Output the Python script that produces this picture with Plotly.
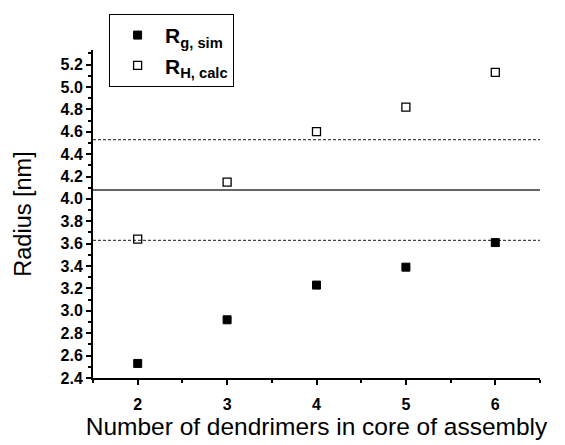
import plotly.graph_objects as go

n_dendrimers = [2, 3, 4, 5, 6]
rg_sim = [2.53, 2.92, 3.23, 3.39, 3.61]
rh_calc = [3.64, 4.15, 4.60, 4.82, 5.13]
ref_solid = [4.08]
ref_dashed = [3.63, 4.53]
x_tick_vals = [2, 3, 4, 5, 6]
y_tick_vals = [2.4, 2.6, 2.8, 3.0, 3.2, 3.4, 3.6, 3.8, 4.0, 4.2, 4.4, 4.6, 4.8, 5.0, 5.2]
y_tick_text = ["%.1f" % v for v in y_tick_vals]

FONT = "Liberation Sans, Arial, sans-serif"

fig = go.Figure()
fig.add_trace(go.Scatter(
    x=n_dendrimers, y=rg_sim, mode="markers",
    name="<b>R<sub>g, sim</sub></b>", legendgroup="a",
    marker=dict(symbol="square", size=8, color="black", line=dict(color="black", width=1)),
))
fig.add_trace(go.Scatter(
    x=n_dendrimers, y=rh_calc, mode="markers",
    name="<b>R<sub>H, calc</sub></b>", legendgroup="b",
    marker=dict(symbol="square-open", size=8, color="black", line=dict(width=1.3)),
))

for yv in ref_solid:
    fig.add_shape(type="line", xref="x", yref="y", x0=1.5, x1=6.5, y0=yv, y1=yv,
                  line=dict(color="#333333", width=1.6), layer="below")
for yv in ref_dashed:
    fig.add_shape(type="line", xref="x", yref="y", x0=1.5, x1=6.5, y0=yv, y1=yv,
                  line=dict(color="#444444", width=1.2, dash="3px,2px"), layer="below")

fig.update_layout(
    width=565, height=445,
    margin=dict(l=93, r=25, t=50, b=67, autoexpand=False),
    plot_bgcolor="white", paper_bgcolor="white",
    font=dict(family=FONT, color="black"),
    showlegend=True,
    legend=dict(
        x=0.036, y=1.11, xanchor="left", yanchor="top",
        bordercolor="black", borderwidth=1, bgcolor="white",
        font=dict(size=21, family=FONT, color="black"),
        itemwidth=45, tracegroupgap=0,
    ),
    xaxis=dict(
        range=[1.5, 6.5], tickmode="array", tickvals=x_tick_vals,
        ticks="outside", ticklen=5, tickwidth=1.5, tickcolor="black",
        showline=True, linecolor="black", linewidth=2, mirror=False,
        showgrid=False, zeroline=False, ticklabelstandoff=6, automargin=False,
        tickfont=dict(size=16, weight="bold", family=FONT),
        minor=dict(dtick=0.5, ticks="outside", ticklen=3, tickwidth=1.5, tickcolor="black", showgrid=False),
        title=dict(text="Number of dendrimers in core of assembly", font=dict(size=24.5, family=FONT), standoff=3),
    ),
    yaxis=dict(
        range=[2.4, 5.33], tickmode="array", tickvals=y_tick_vals, ticktext=y_tick_text,
        ticks="outside", ticklen=5, tickwidth=1.5, tickcolor="black",
        showline=True, linecolor="black", linewidth=2, mirror=False,
        showgrid=False, zeroline=False, automargin=False,
        tickfont=dict(size=16, weight="bold", family=FONT),
        minor=dict(dtick=0.1, tick0=2.4, ticks="outside", ticklen=3, tickwidth=1.5, tickcolor="black", showgrid=False),
        title=dict(text="Radius [nm]", font=dict(size=23.5, family=FONT), standoff=22),
    ),
)

fig.write_html("out.html")
